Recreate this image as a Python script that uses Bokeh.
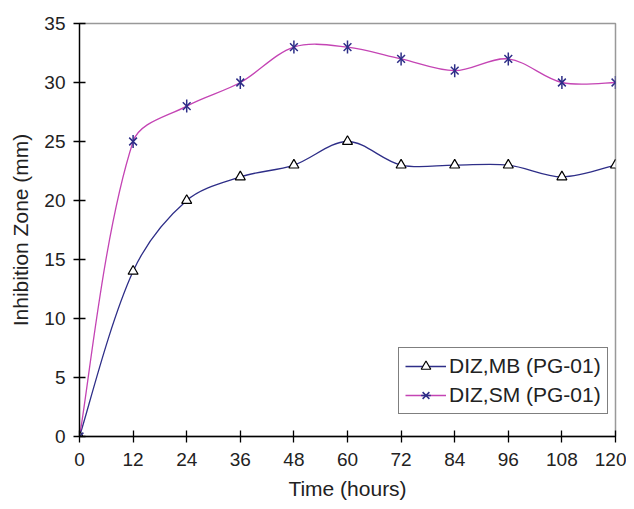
import numpy as np
from bokeh.plotting import figure
from bokeh.models import Legend, LegendItem, Range1d, FixedTicker
from bokeh.embed import file_html
from bokeh.resources import INLINE

hours = [0, 12, 24, 36, 48, 60, 72, 84, 96, 108, 120]
diz_mb = [0, 14, 20, 22, 23, 25, 23, 23, 23, 22, 23]
diz_sm = [0, 25, 28, 30, 33, 33, 32, 31, 32, 30, 30]

MB_COLOR = "#2e2e88"
SM_COLOR = "#c444b4"
FONT = "Liberation Sans"
TXT = "#222222"

p = figure(width=626, height=503, output_backend="svg", toolbar_location=None,
           x_range=Range1d(0, 120), y_range=Range1d(0, 35),
           min_border_left=79, min_border_right=11, min_border_top=23, min_border_bottom=67)
p.xgrid.visible = False
p.ygrid.visible = False
p.outline_line_color = "#999999"
p.outline_line_width = 1.5
p.background_fill_color = "white"
p.border_fill_color = "white"

# approximate screen scale (px per data unit) used only for curve smoothing weights
SX, SY = 536 / 120.0, 413 / 35.0


def smooth_ctrl(xs, ys):
    P = np.column_stack([np.array(xs, float), np.array(ys, float)])
    n = len(P)

    def d(a, b):
        return np.hypot((P[a, 0] - P[b, 0]) * SX, (P[a, 1] - P[b, 1]) * SY)

    cin = [None] * n
    cout = [None] * n
    for i in range(n):
        pm = max(i - 1, 0)
        pp = min(i + 1, n - 1)
        T = P[pp] - P[pm]
        dp = d(i, pm)
        dn = d(i, pp)
        tot = dp + dn
        if i == 0 or i == n - 1:
            cout[i] = P[i] + T / 6
            cin[i] = P[i] - T / 6
        else:
            cout[i] = P[i] + T / 3 * dn / tot
            cin[i] = P[i] - T / 3 * dp / tot
    out = dict(x0=[], y0=[], x1=[], y1=[], cx0=[], cy0=[], cx1=[], cy1=[])
    for i in range(n - 1):
        out["x0"].append(P[i, 0]); out["y0"].append(P[i, 1])
        out["x1"].append(P[i + 1, 0]); out["y1"].append(P[i + 1, 1])
        out["cx0"].append(cout[i][0]); out["cy0"].append(cout[i][1])
        out["cx1"].append(cin[i + 1][0]); out["cy1"].append(cin[i + 1][1])
    return out


p.bezier(line_color=MB_COLOR, line_width=1.3, **smooth_ctrl(hours, diz_mb))
p.bezier(line_color=SM_COLOR, line_width=1.3, **smooth_ctrl(hours, diz_sm))

mb_pts = p.scatter(hours, diz_mb, marker="triangle", size=10, fill_color="white",
                   line_color="black", line_width=1.2)
sm_x = p.scatter(hours, diz_sm, marker="x", size=11, line_color=MB_COLOR, line_width=1.5)
sm_v = p.scatter(hours, diz_sm, marker="dash", size=13, angle=np.pi / 2,
                 line_color=MB_COLOR, line_width=1.5)

# legend glyph proxies
lg_mb_line = p.line([0, 1], [0, 0], line_color=MB_COLOR, line_width=1.3, visible=False)
lg_sm_line = p.line([0, 1], [0, 0], line_color=SM_COLOR, line_width=1.3, visible=False)

legend = Legend(items=[
    LegendItem(label="DIZ,MB (PG-01)", renderers=[lg_mb_line, mb_pts]),
    LegendItem(label="DIZ,SM (PG-01)", renderers=[lg_sm_line, sm_x, sm_v]),
], location=(319, 22))
legend.border_line_color = "black"
legend.border_line_width = 1.2
legend.background_fill_alpha = 1
legend.label_text_font = FONT
legend.label_text_font_size = "21px"
legend.label_text_color = TXT
legend.glyph_width = 41
legend.glyph_height = 24
legend.label_height = 24
legend.padding = 6
legend.spacing = 5
legend.margin = 0
legend.label_standoff = 3
p.add_layout(legend, "center")

for ax in (p.xaxis[0], p.yaxis[0]):
    ax.axis_line_color = "black"
    ax.axis_line_width = 1.3
    ax.major_tick_line_color = "black"
    ax.major_tick_line_width = 1.3
    ax.major_tick_in = 6
    ax.major_tick_out = 6
    ax.minor_tick_line_color = None
    ax.major_label_text_font = FONT
    ax.major_label_text_font_size = "19px"
    ax.major_label_text_color = TXT
    ax.axis_label_text_font = FONT
    ax.axis_label_text_font_size = "21px"
    ax.axis_label_text_font_style = "normal"
    ax.axis_label_text_color = TXT

p.xaxis.ticker = FixedTicker(ticks=hours)
p.yaxis.ticker = FixedTicker(ticks=[0, 5, 10, 15, 20, 25, 30, 35])
p.xaxis.axis_label = "Time (hours)"
p.yaxis.axis_label = "Inhibition Zone (mm)"
p.xaxis.major_label_standoff = 10
p.yaxis.major_label_standoff = 8
p.xaxis.axis_label_standoff = 8
p.yaxis.axis_label_standoff = 9

open("out.html", "w").write(file_html(p, INLINE))
